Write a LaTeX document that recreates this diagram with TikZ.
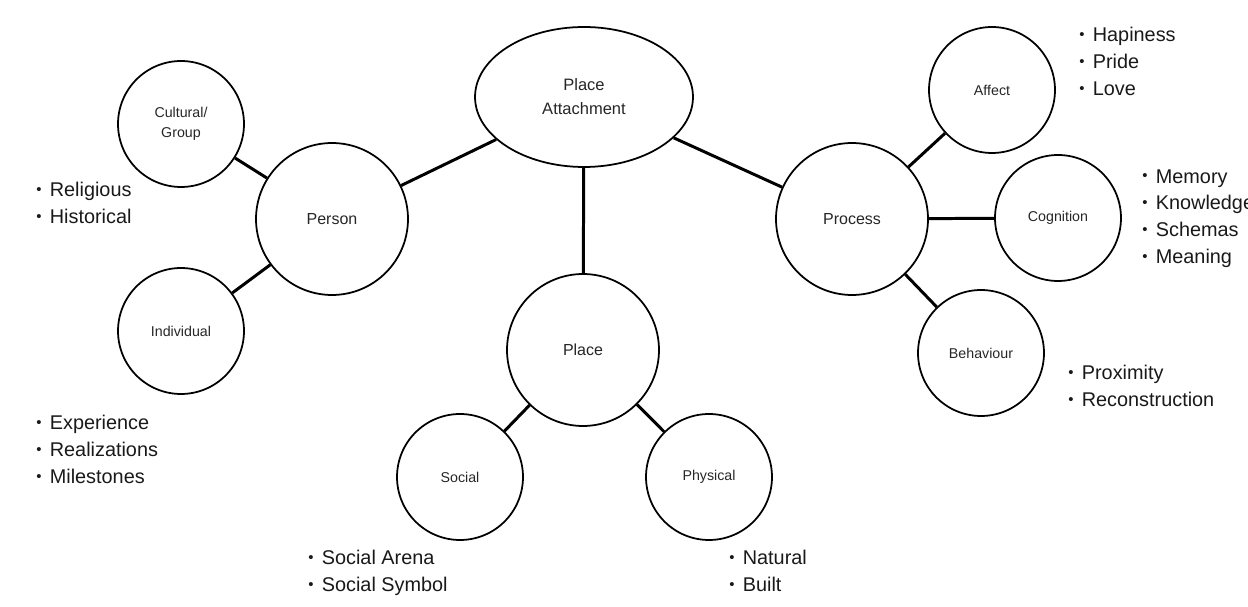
\documentclass[tikz,border=0pt]{standalone}
\usepackage{fontspec}
\setmainfont{Liberation Sans}
\usetikzlibrary{shapes.geometric}

\tikzset{
  bigc/.style={draw, circle, line width=1pt, minimum size=3.04cm, inner sep=0pt, text=black!85, font=\fontsize{9.1}{11}\selectfont},
  smallc/.style={draw, circle, line width=1pt, minimum size=2.52cm, inner sep=0pt, align=center, text=black!85, font=\fontsize{8.1}{11.3}\selectfont},
  link/.style={line width=1.7pt},
  items/.style={anchor=north west, inner sep=0pt, align=left, text=black!90, font=\fontsize{11.3}{15.3}\selectfont},
}
\newcommand{\itm}{\makebox[0.27cm][l]{\raisebox{0.2ex}{\scalebox{0.75}{\textbullet}}}}

\begin{document}
\begin{tikzpicture}[x=0.02cm,y=-0.02cm]
\useasboundingbox (0,0) rectangle (1248,607);

% centre
\node[draw, ellipse, line width=1pt, minimum width=4.36cm, minimum height=2.8cm, align=center, text=black!85, font=\fontsize{9.4}{13.6}\selectfont] (attach) at (584,97) {Place\\Attachment};

% the three dimensions
\node[bigc] (person)  at (332,219) {Person};
\node[bigc] (place)   at (583,350) {Place};
\node[bigc] (process) at (852,219) {Process};

% sub circles
\node[smallc] (cultural)   at (181,124) {Cultural/\\Group};
\node[smallc] (individual) at (181,331) {Individual};
\node[smallc] (social)     at (460,477) {Social};
\node[smallc] (physical)   at (709,477) {Physical};
\node[smallc] (affect)     at (992,90)  {Affect};
\node[smallc] (cognition)  at (1058,218) {Cognition};
\node[smallc] (behaviour)  at (981,353) {Behaviour};

% links
\draw[link] (attach) -- (person);
\draw[link] (attach) -- (place);
\draw[link] (attach) -- (process);
\draw[link] (person) -- (cultural);
\draw[link] (person) -- (individual);
\draw[link] (place) -- (social);
\draw[link] (place) -- (physical);
\draw[link] (process) -- (affect);
\draw[link] (process) -- (cognition);
\draw[link] (process) -- (behaviour);

% bullet lists
\node[items] (grouplist)    at (36,182)   {\itm Religious\\\itm Historical};
\node[items] (indlist)      at (36,415)   {\itm Experience\\\itm Realizations\\\itm Milestones};
\node[items] (sociallist)   at (308,550)  {\itm Social Arena\\\itm Social Symbol};
\node[items] (physlist)     at (729,550)  {\itm Natural\\\itm Built};
\node[items] (affectlist)   at (1079,27)  {\itm Hapiness\\\itm Pride\\\itm Love};
\node[items] (cognlist)     at (1142,169) {\itm Memory\\\itm Knowledge\\\itm Schemas\\\itm Meaning};
\node[items] (behavlist)    at (1068,365) {\itm Proximity\\\itm Reconstruction};

\end{tikzpicture}
\end{document}
